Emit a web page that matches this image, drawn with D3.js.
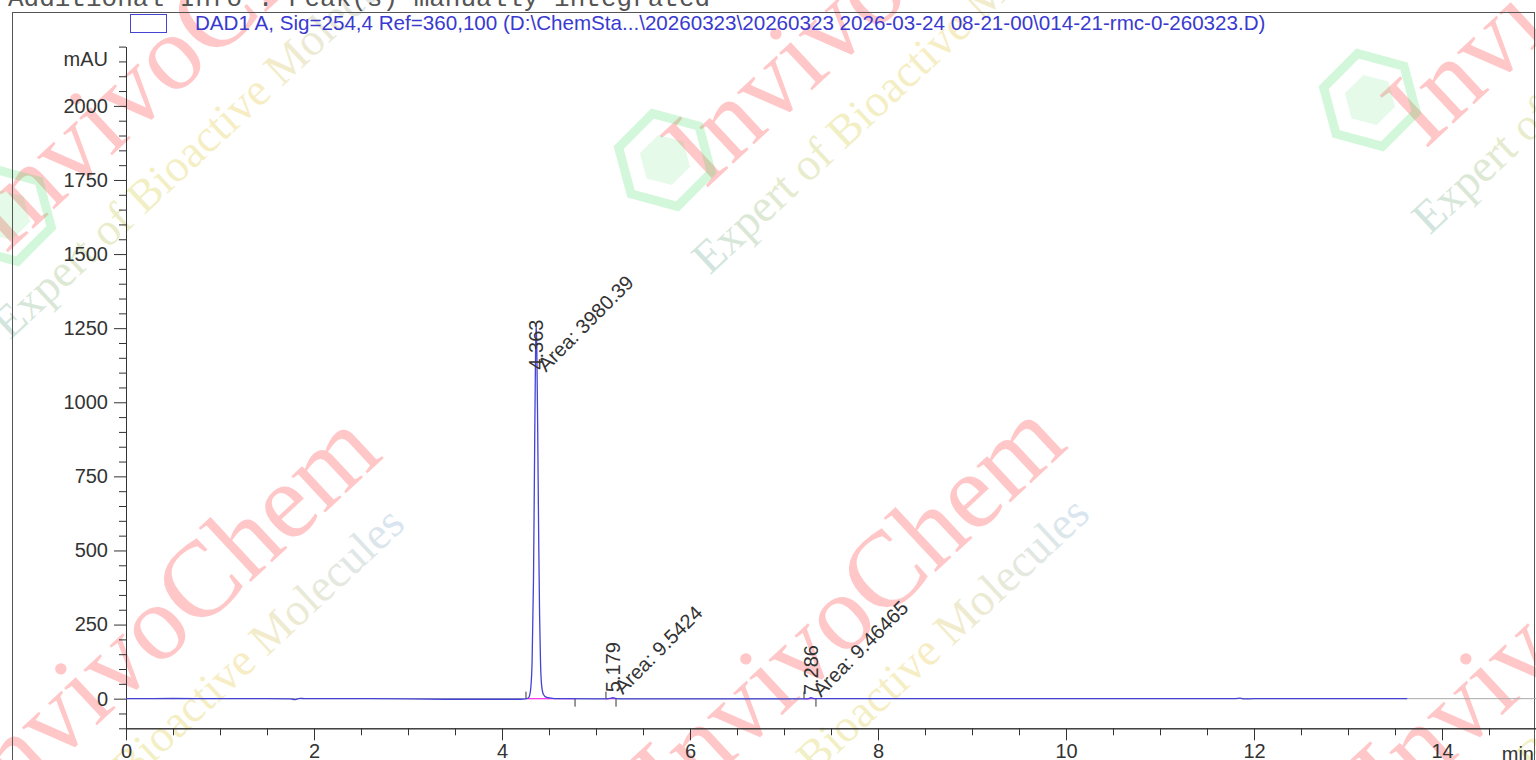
<!DOCTYPE html>
<html lang="en">
<head>
  <meta charset="UTF-8">
  <script src="https://d3js.org/d3.v7.min.js"></script>
  <title>DAD1 A chromatogram</title>
  <style>
    body { margin: 0; background: #fff; }
    .tick text { font-family: 'Liberation Sans', Arial, sans-serif; font-size: 20px; fill: #333; }
    .lbl { font-family: 'Liberation Sans', Arial, sans-serif; font-size: 20px; fill: #333; }
  </style>
</head>
<body>
<div id="chart"></div>
<script>

  // trace: [time (min), signal (mAU)]
  let traceTime = [0, 0.5, 1.0, 1.5, 1.75, 1.8, 1.85, 1.9, 2.5, 3.0, 3.5, 4.0, 4.2, 4.25, 4.28, 4.30, 4.32, 4.335, 4.345, 4.355, 4.363,
                   4.37, 4.38, 4.39, 4.40, 4.41, 4.42, 4.44, 4.47, 4.52, 4.6, 5.0, 5.1, 5.15, 5.179, 5.21, 5.25, 6.0, 7.0, 7.25, 7.286, 7.32,
                   8.0, 10.0, 11.8, 11.85, 11.9, 12.0, 13.63]
  let traceValue = [0, 0.5, 0, 0, -1, -3, 1, 0, 0, -1, -2, -2, -2, -1, 2, 20, 120, 400, 760, 1110, 1265,
                    1190, 900, 550, 280, 120, 50, 15, 5, 2, 0, -1, -1, 1, 3, 1, -1, -1, -1, -1, 3, 0,
                    0, 0, 0, 2, -1, 0, 0]

  // integrated peaks
  let peakTime = [4.363, 5.179, 7.286]
  let peakArea = ['3980.39', '9.5424', '9.46465']
  let peakLabelAt = [1110, 22, 12]
  let peakStart = [4.255, 5.106, 7.213]
  let peakEnd = [4.777, 5.213, 7.34]

  // axis ticks
  let xMajor = [0, 2, 4, 6, 8, 10, 12, 14]
  let yMajor = [0, 250, 500, 750, 1000, 1250, 1500, 1750, 2000]

  let legendText = 'DAD1 A, Sig=254,4 Ref=360,100 (D:\\ChemSta...\\20260323\\20260323 2026-03-24 08-21-00\\014-21-rmc-0-260323.D)'
  let infoText = 'Additional Info : Peak(s) manually integrated'

  let width = 1536, height = 760

  let svg = d3.select('#chart').append('svg')
          .attr('width', width)
          .attr('height', height)

  let x = d3.scaleLinear().domain([0, 15]).range([126, 1536])
  let y = d3.scaleLinear().domain([-100, 2200]).range([728.3, 46.6])

  //Watermark in the background
  let defs = svg.append('defs')
  let grad = defs.append('linearGradient').attr('id', 'wmGrad')
  grad.append('stop').attr('offset', '0').attr('stop-color', '#6fae9e')
  grad.append('stop').attr('offset', '0.35').attr('stop-color', '#d9d04a')
  grad.append('stop').attr('offset', '0.62').attr('stop-color', '#e8c94a')
  grad.append('stop').attr('offset', '1').attr('stop-color', '#86b0d8')

  let wm = svg.append('g').attr('class', 'watermark')
  let stamps = [[5, 255], [705, 190], [1425, 150], [-10, 825], [675, 815], [1395, 815]]
  stamps.forEach(s => {
    let t = wm.append('g').attr('transform', 'translate(' + s[0] + ',' + s[1] + ') rotate(-43)')
    t.append('text')
            .text('InvivoChem')
            .attr('font-family', 'Liberation Serif')
            .attr('font-size', 108)
            .attr('fill', '#ff2a2a')
            .attr('opacity', 0.26)
    t.append('text')
            .attr('x', -55).attr('y', 66)
            .text('Expert of Bioactive Molecules')
            .attr('font-family', 'Liberation Serif')
            .attr('font-size', 46)
            .attr('fill', 'url(#wmGrad)')
            .attr('opacity', 0.32)
  })
  let hex = d3.range(6).map(i => [48 * Math.cos(Math.PI / 3 * i), 48 * Math.sin(Math.PI / 3 * i)])
  let hexIn = d3.range(6).map(i => [26 * Math.cos(Math.PI / 3 * i), 26 * Math.sin(Math.PI / 3 * i)])
  ;[[5, 215], [665, 160], [1370, 100]].forEach(c => {
    let h = wm.append('g').attr('transform', 'translate(' + c[0] + ',' + c[1] + ') rotate(15)')
    h.append('polygon').attr('points', hex.join(' '))
            .attr('fill', 'none').attr('stroke', '#4fe06a').attr('stroke-width', 9).attr('opacity', 0.25)
    h.append('polygon').attr('points', hexIn.join(' '))
            .attr('fill', '#4fe06a').attr('opacity', 0.15)
  })

  //Cut off header line at the very top
  svg.append('text')
          .attr('x', 8).attr('y', 6)
          .attr('font-family', 'Liberation Mono')
          .attr('font-size', 26)
          .attr('fill', '#555')
          .text(infoText)

  //Outer frame
  svg.append('rect')
          .attr('x', 12.5).attr('y', 12.5)
          .attr('width', 1522).attr('height', 760)
          .attr('fill', 'none')
          .attr('stroke', '#555')

  //Legend
  svg.append('rect')
          .attr('x', 130.5).attr('y', 14.5)
          .attr('width', 36).attr('height', 18)
          .attr('fill', 'none')
          .attr('stroke', '#4343d4')
  svg.append('text')
          .attr('x', 195).attr('y', 30)
          .attr('font-family', 'Liberation Sans')
          .attr('font-size', 20.6)
          .attr('fill', '#3a3ad0')
          .text(legendText)

  //Zero line across the plot
  svg.append('line')
          .attr('x1', x(0)).attr('x2', x(15))
          .attr('y1', y(0)).attr('y2', y(0))
          .attr('stroke', '#aaa')

  //Axes: major and minor ticks
  let yMinor = d3.range(-100, 2201, 50).filter(v => v % 250 !== 0)
  let xMinor = d3.range(0, 15.01, 0.5).filter(v => v % 2 !== 0)

  svg.append('g')
          .attr('transform', 'translate(' + x(0) + ',0)')
          .call(d3.axisLeft(y).tickValues(yMinor).tickSize(7).tickSizeOuter(0).tickFormat(''))
  svg.append('g')
          .attr('transform', 'translate(' + x(0) + ',0)')
          .call(d3.axisLeft(y).tickValues(yMajor).tickSize(12).tickSizeOuter(0).tickPadding(6).tickFormat(d3.format('d')))
  svg.append('g')
          .attr('transform', 'translate(0,' + y(-100) + ')')
          .call(d3.axisBottom(x).tickValues(xMinor).tickSize(7).tickSizeOuter(0).tickFormat(''))
  svg.append('g')
          .attr('transform', 'translate(0,' + y(-100) + ')')
          .call(d3.axisBottom(x).tickValues(xMajor).tickSize(12).tickSizeOuter(0).tickPadding(4).tickFormat(d3.format('d')))

  svg.selectAll('.domain, .tick line').attr('stroke', '#333')

  svg.append('text').attr('class', 'lbl')
          .attr('x', 108).attr('y', y(2200) + 19)
          .attr('text-anchor', 'end')
          .text('mAU')
  svg.append('text').attr('class', 'lbl')
          .attr('x', 1534).attr('y', 761)
          .attr('text-anchor', 'end')
          .text('min')

  //Integration baselines and event marks
  peakTime.forEach((t, i) => {
    svg.append('line')
            .attr('x1', x(peakStart[i])).attr('x2', x(peakEnd[i]))
            .attr('y1', y(0)).attr('y2', y(0))
            .attr('stroke', '#ff3cf0').attr('stroke-width', 1.2)
    svg.append('line')
            .attr('x1', x(peakStart[i])).attr('x2', x(peakStart[i]))
            .attr('y1', y(0)).attr('y2', y(0) - 7)
            .attr('stroke', '#333')
    svg.append('line')
            .attr('x1', x(peakEnd[i])).attr('x2', x(peakEnd[i]))
            .attr('y1', y(0)).attr('y2', y(0) + 8)
            .attr('stroke', '#333')
  })

  //Signal trace
  let trace = traceTime.map((t, i) => [t, traceValue[i]])
  let line = d3.line()
          .x(d => x(d[0]))
          .y(d => y(d[1]))
          .curve(d3.curveMonotoneX)
  svg.append('path')
          .attr('d', line(trace))
          .attr('fill', 'none')
          .attr('stroke', '#4343d4')
          .attr('stroke-width', 1.3)

  //Peak labels
  peakTime.forEach((t, i) => {
    svg.append('text').attr('class', 'lbl')
            .attr('transform', 'translate(' + (x(t) + 7) + ',' + y(peakLabelAt[i]) + ') rotate(-90)')
            .text(t.toFixed(3))
    svg.append('text').attr('class', 'lbl')
            .attr('transform', 'translate(' + (x(t) + 10) + ',' + (y(peakLabelAt[i]) + 3) + ') rotate(-45)')
            .text('Area: ' + peakArea[i])
  })

</script>
</body>
</html>
